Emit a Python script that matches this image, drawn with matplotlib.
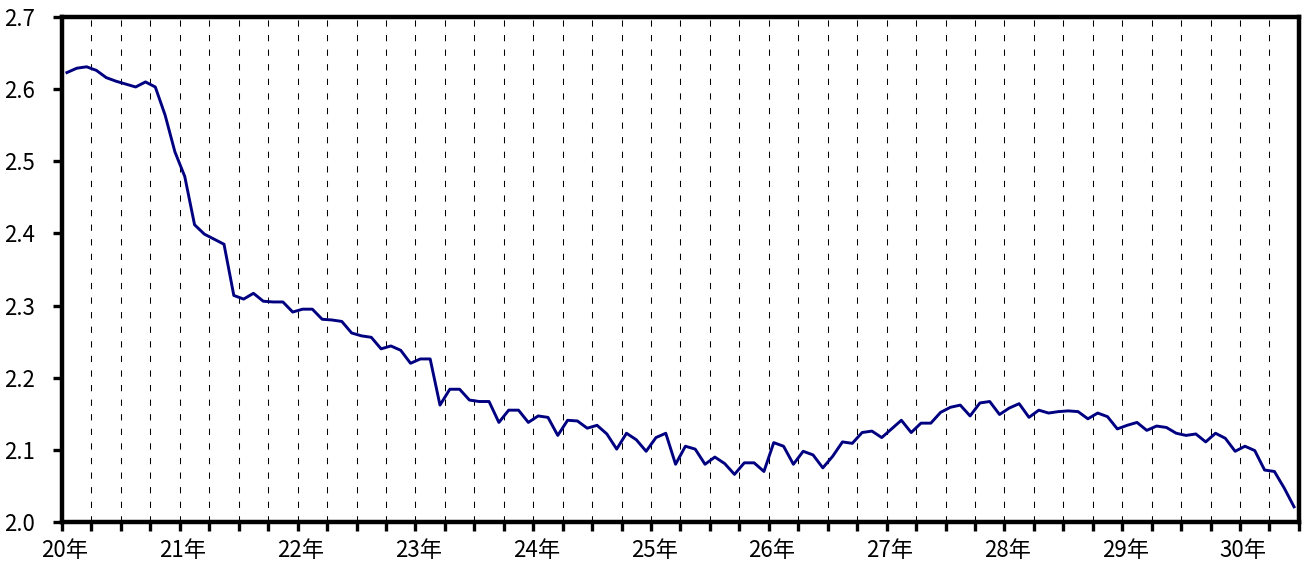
import numpy as np
import matplotlib
matplotlib.use("Agg")
import matplotlib.pyplot as plt
import matplotlib.transforms as mtransforms
from matplotlib.ticker import FixedLocator, MultipleLocator

plt.rcParams['font.family'] = ['Noto Sans CJK JP', 'DejaVu Sans']

# monthly values, starting January of year 20
start_year = 20
rate = [
    2.623, 2.629, 2.631, 2.626, 2.616, 2.611, 2.607, 2.603, 2.610, 2.603, 2.564, 2.513,
    2.479, 2.412, 2.399, 2.392, 2.385, 2.314, 2.309, 2.317, 2.306, 2.305, 2.305, 2.291,
    2.295, 2.295, 2.281, 2.280, 2.278, 2.262, 2.258, 2.256, 2.240, 2.244, 2.238, 2.220,
    2.226, 2.226, 2.162, 2.184, 2.184, 2.169, 2.167, 2.167, 2.138, 2.155, 2.155, 2.138,
    2.147, 2.145, 2.120, 2.141, 2.140, 2.130, 2.134, 2.122, 2.101, 2.123, 2.114, 2.098,
    2.117, 2.123, 2.080, 2.105, 2.101, 2.080, 2.090, 2.081, 2.066, 2.082, 2.082, 2.070,
    2.110, 2.105, 2.080, 2.098, 2.093, 2.075, 2.091, 2.111, 2.109, 2.124, 2.126, 2.117,
    2.129, 2.141, 2.124, 2.137, 2.137, 2.152, 2.159, 2.162, 2.147, 2.165, 2.167, 2.149,
    2.158, 2.164, 2.145, 2.155, 2.151, 2.153, 2.154, 2.153, 2.143, 2.151, 2.146, 2.129,
    2.134, 2.138, 2.127, 2.133, 2.131, 2.123, 2.120, 2.122, 2.111, 2.123, 2.116, 2.098,
    2.105, 2.099, 2.072, 2.070, 2.047, 2.021,
]
years = list(range(20, 31))
year_labels = [f"{y}年" for y in years]
y_ticks = [2.0, 2.1, 2.2, 2.3, 2.4, 2.5, 2.6, 2.7]

# points sit in the middle of each month
x = start_year + (np.arange(len(rate)) + 0.5) / 12

fig = plt.figure(figsize=(13.06, 5.67), dpi=100)
ax = fig.add_axes([0.0475, 0.0794, 0.9471, 0.8906])

ax.plot(x, rate, color='#000080', lw=2.1, zorder=3)

ax.set_xlim(20, 30.5)
ax.set_ylim(2.0, 2.7)
ax.xaxis.set_major_locator(FixedLocator(years))
ax.set_xticklabels(year_labels)
ax.xaxis.set_minor_locator(MultipleLocator(0.25))
ax.set_yticks(y_ticks)
ax.set_yticklabels([f"{v:.1f}" for v in y_ticks])

ax.grid(axis='x', which='both', color='black', lw=0.75, linestyle=(0, (6, 8)))

for s in ax.spines.values():
    s.set_linewidth(3.2)
    s.set_color('black')

ax.tick_params(axis='both', which='both', direction='out', length=6.5, width=2.4,
               color='black', labelsize=16)
ax.tick_params(axis='x', which='both', pad=6)
ax.tick_params(axis='y', pad=13)

# year labels sit a little right of their tick
shift = mtransforms.ScaledTranslation(3 / 100, 0, fig.dpi_scale_trans)
for lab in ax.get_xticklabels():
    lab.set_transform(lab.get_transform() + shift)

fig.savefig('out.png', dpi=100)
